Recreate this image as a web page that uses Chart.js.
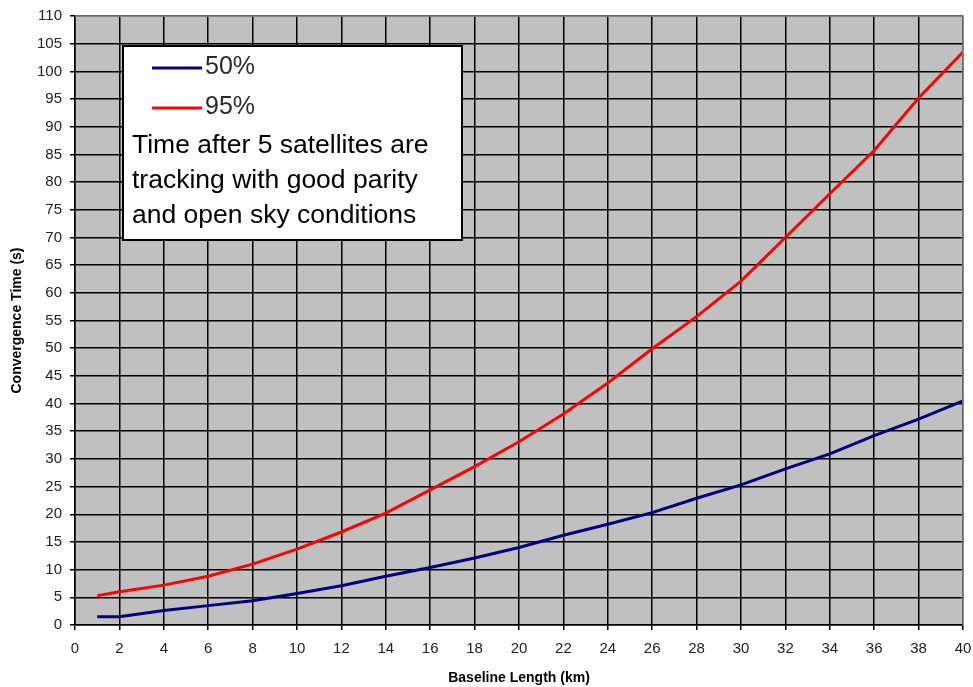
<!DOCTYPE html>
<html>
<head>
<meta charset="utf-8">
<script src="https://cdn.jsdelivr.net/npm/chart.js@4/dist/chart.umd.min.js"></script>
<style>
  html, body { margin: 0; padding: 0; background: #ffffff; }
  #wrap { width: 973px; height: 687px; position: relative; }
</style>
</head>
<body>
<div id="wrap"><canvas id="c" width="973" height="687"></canvas></div>
<script>
// ---- data ----
const baselineKm = [1, 2, 4, 6, 8, 10, 12, 14, 16, 18, 20, 22, 24, 26, 28, 30, 32, 34, 36, 38, 40];
const time50 = [1.5, 1.5, 2.6, 3.5, 4.4, 5.7, 7.1, 8.8, 10.4, 12.1, 14.0, 16.2, 18.2, 20.3, 22.9, 25.3, 28.2, 30.9, 34.2, 37.2, 40.5];
const time95 = [5.3, 6.0, 7.2, 8.8, 11.0, 13.7, 16.8, 20.2, 24.4, 28.6, 33.1, 38.1, 43.7, 49.9, 55.7, 62.1, 70.0, 77.9, 85.7, 95.2, 103.5];
const seriesLabels = ['50%', '95%'];
const noteLines = ['Time after 5 satellites are', 'tracking with good parity', 'and open sky conditions'];
const xTitle = 'Baseline Length (km)';
const yTitle = 'Convergence Time (s)';

const FONT = "Arial, 'Liberation Sans', sans-serif";

const plotBg = {
  id: 'plotBg',
  beforeDraw(chart) {
    const {ctx, chartArea: a} = chart;
    ctx.save();
    ctx.fillStyle = '#c0c0c0';
    ctx.fillRect(a.left, a.top, a.right - a.left, a.bottom - a.top);
    ctx.restore();
  },
  afterDatasetsDraw(chart) {
    const {ctx, chartArea: a} = chart;
    ctx.save();
    ctx.strokeStyle = '#8c8c8c';
    ctx.lineWidth = 1.5;
    ctx.beginPath();
    ctx.moveTo(a.left, a.top);
    ctx.lineTo(a.right, a.top);
    ctx.lineTo(a.right, a.bottom);
    ctx.stroke();
    ctx.restore();
  }
};

const noteLegend = {
  id: 'noteLegend',
  afterDraw(chart) {
    const ctx = chart.ctx;
    const ds = chart.data.datasets;
    ctx.save();
    ctx.fillStyle = '#ffffff';
    ctx.fillRect(123, 46, 339, 194);
    ctx.strokeStyle = '#000000';
    ctx.lineWidth = 2;
    ctx.strokeRect(123, 46, 339, 194);
    const rows = [68, 108];
    ds.forEach((d, i) => {
      ctx.strokeStyle = d.borderColor;
      ctx.lineWidth = 3;
      ctx.beginPath();
      ctx.moveTo(152, rows[i]);
      ctx.lineTo(202, rows[i]);
      ctx.stroke();
      ctx.fillStyle = '#2a2a2a';
      ctx.font = '25px ' + FONT;
      ctx.textBaseline = 'middle';
      ctx.textAlign = 'left';
      ctx.fillText(d.label, 205, rows[i] - 1);
    });
    ctx.fillStyle = '#000000';
    ctx.font = '26.5px ' + FONT;
    ctx.textBaseline = 'alphabetic';
    noteLines.forEach((t, i) => ctx.fillText(t, 132, 153 + i * 35));
    ctx.restore();
  }
};

new Chart(document.getElementById('c'), {
  type: 'line',
  data: {
    datasets: [
      {
        label: seriesLabels[0],
        data: baselineKm.map((x, i) => ({x, y: time50[i]})),
        borderColor: '#000080',
        backgroundColor: '#000080',
        borderWidth: 3,
        pointRadius: 0,
        tension: 0,
        fill: false
      },
      {
        label: seriesLabels[1],
        data: baselineKm.map((x, i) => ({x, y: time95[i]})),
        borderColor: '#ff0000',
        backgroundColor: '#ff0000',
        borderWidth: 3,
        pointRadius: 0,
        tension: 0,
        fill: false
      }
    ]
  },
  options: {
    responsive: false,
    animation: false,
    devicePixelRatio: 1,
    layout: { padding: { left: 0, right: 10, top: 16, bottom: 0 } },
    plugins: {
      legend: { display: false },
      tooltip: { enabled: false },
      title: { display: false }
    },
    scales: {
      x: {
        type: 'linear',
        min: 0,
        max: 40,
        afterFit(s) { s.height = 62; s.paddingLeft = 0; s.paddingRight = 0; },
        ticks: {
          stepSize: 2,
          color: '#222222',
          font: { family: FONT, size: 15 },
          padding: 10,
          maxRotation: 0,
          autoSkip: false
        },
        grid: {
          color: '#000000',
          lineWidth: 1.5,
          tickLength: 5,
          drawTicks: true
        },
        border: { color: '#000000', width: 1.5 },
        title: {
          display: true,
          text: xTitle,
          color: '#000000',
          font: { family: FONT, size: 14, weight: 'bold' },
          padding: { top: 0, bottom: 0 }
        }
      },
      y: {
        type: 'linear',
        min: 0,
        max: 110,
        afterFit(s) { s.width = 75; s.paddingTop = 0; s.paddingBottom = 0; },
        ticks: {
          stepSize: 5,
          color: '#222222',
          font: { family: FONT, size: 15 },
          padding: 8,
          autoSkip: false
        },
        grid: {
          color: '#000000',
          lineWidth: 1.5,
          tickLength: 5,
          drawTicks: true
        },
        border: { color: '#000000', width: 1.5 },
        title: {
          display: true,
          text: yTitle,
          color: '#000000',
          font: { family: FONT, size: 14, weight: 'bold' },
          padding: { top: 9, bottom: 0 }
        }
      }
    }
  },
  plugins: [plotBg, noteLegend]
});
</script>
</body>
</html>
